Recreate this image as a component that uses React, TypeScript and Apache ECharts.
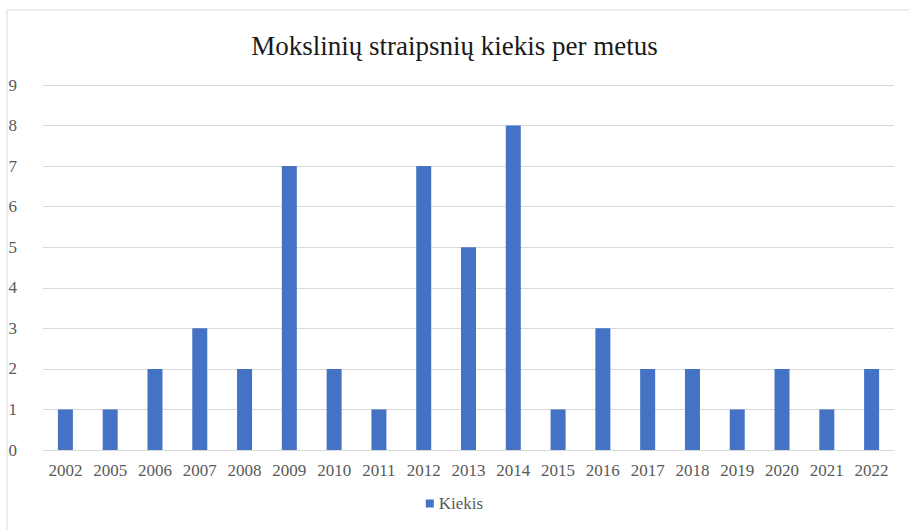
import React, { useEffect, useRef } from "react";
import * as echarts from "echarts";

const categories = ["2002", "2005", "2006", "2007", "2008", "2009", "2010", "2011", "2012", "2013", "2014", "2015", "2016", "2017", "2018", "2019", "2020", "2021", "2022"];
const kiekis = [1, 1, 2, 3, 2, 7, 2, 1, 7, 5, 8, 1, 3, 2, 2, 1, 2, 1, 2];
const titleText = "Mokslinių straipsnių kiekis per metus";
const seriesName = "Kiekis";

const FONT = "'Liberation Serif', 'DejaVu Serif', serif";

export default function App() {
  const ref = useRef<HTMLDivElement>(null);
  useEffect(() => {
    if (!ref.current) return;
    const chart = echarts.init(ref.current, undefined, { renderer: "svg" });
    chart.setOption({
      animation: false,
      backgroundColor: "#fff",
      title: {
        text: titleText,
        left: "center",
        top: 27,
        textStyle: { fontFamily: FONT, fontSize: 27, fontWeight: "normal", color: "#1a1a1a" },
      },
      legend: {
        bottom: 13,
        left: "center",
        itemWidth: 8,
        itemHeight: 8,
        itemGap: 4,
        icon: "rect",
        textStyle: { fontFamily: FONT, fontSize: 17, color: "#595959" },
        data: [seriesName],
      },
      grid: { left: 43, right: 15, top: 85, bottom: 80, containLabel: false },
      xAxis: {
        type: "category",
        data: categories,
        axisLine: { show: true, lineStyle: { color: "#d9d9d9" } },
        axisTick: { show: false },
        axisLabel: { fontFamily: FONT, fontSize: 17, color: "#595959", margin: 12, interval: 0 },
      },
      yAxis: {
        type: "value",
        min: 0,
        max: 9,
        interval: 1,
        axisLine: { show: false },
        axisTick: { show: false },
        splitLine: { lineStyle: { color: "#d9d9d9", width: 1 } },
        axisLabel: { fontFamily: FONT, fontSize: 17, color: "#595959", margin: 26 },
      },
      series: [
        {
          name: seriesName,
          type: "bar",
          data: kiekis,
          barWidth: 15,
          itemStyle: { color: "#4472c4" },
        },
      ],
      graphic: [
        {
          type: "rect",
          shape: { x: 7, y: 10, width: 905, height: 525 },
          style: { fill: "none", stroke: "#d9d9d9", lineWidth: 1 },
          silent: true,
        },
      ],
    });
    return () => chart.dispose();
  }, []);
  return (
    <div style={{ position: "absolute", left: 0, top: 0, width: 909, height: 530 }}>
      <div ref={ref} style={{ width: 909, height: 530 }} />
    </div>
  );
}
